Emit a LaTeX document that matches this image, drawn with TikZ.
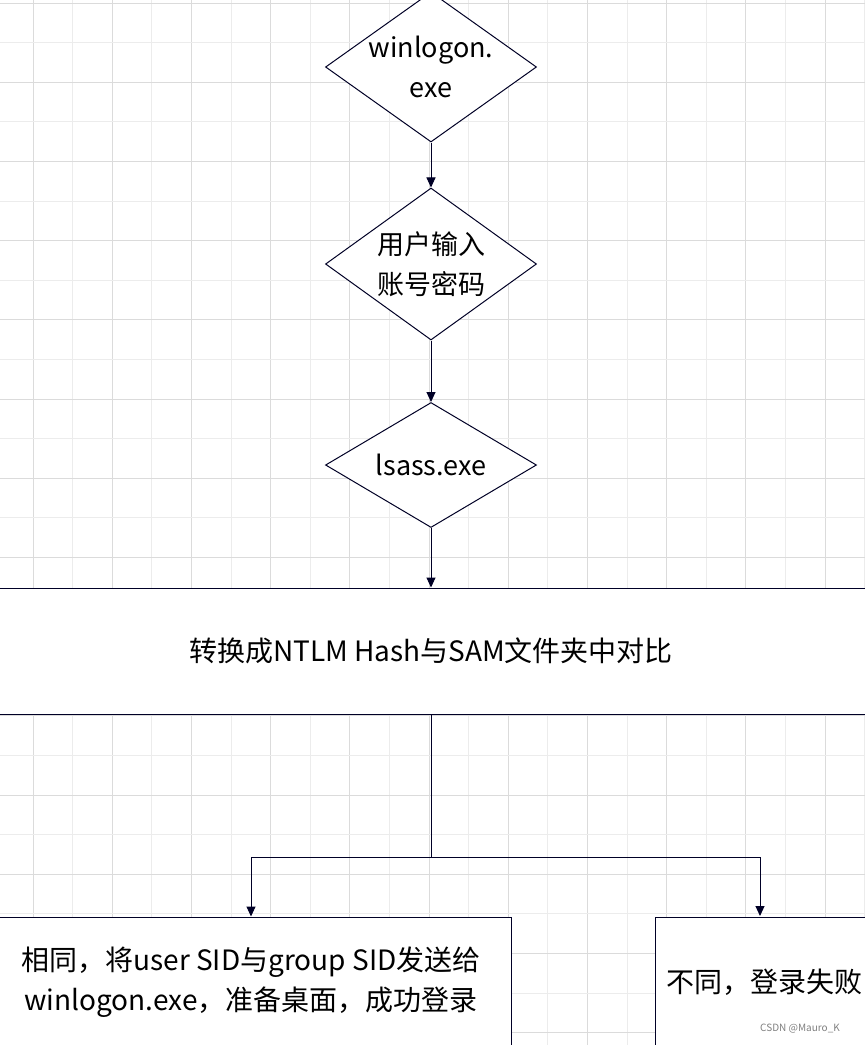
\documentclass[tikz,border=0pt]{standalone}
\usepackage{fontspec}
\setmainfont{Noto Sans CJK SC}
\usetikzlibrary{shapes.geometric,arrows.meta}
\begin{document}
\begin{tikzpicture}[x=1pt,y=-1pt,
  ln/.style={draw=black!85!blue,line width=1pt},
  dia/.style={ln,diamond,fill=white,minimum width=211pt,minimum height=150pt,inner sep=0pt},
  dt/.style={align=center,font=\fontsize{27}{40}\selectfont,inner sep=0pt},
  box/.style={ln,rectangle,fill=white,inner sep=0pt,align=center,font=\fontsize{28}{40}\selectfont},
  arr/.style={ln,-{Triangle[length=10pt,width=9pt]}}]
\useasboundingbox (0,0) rectangle (865,1045);
\fill[white] (0,0) rectangle (865,1045);
\foreach \i in {0,...,21}{
  \pgfmathsetmacro\xx{33+39.6*\i}
  \pgfmathtruncatemacro\m{mod(\i,2)}
  \ifnum\m=0 \draw[gray!28,line width=1pt] (\xx,0)--(\xx,1045); \else \draw[gray!15,line width=1pt] (\xx,0)--(\xx,1045);\fi
}
\foreach \i in {0,...,26}{
  \pgfmathsetmacro\yy{3+39.6*\i}
  \pgfmathtruncatemacro\m{mod(\i,2)}
  \ifnum\m=0 \draw[gray!28,line width=1pt] (0,\yy)--(865,\yy); \else \draw[gray!15,line width=1pt] (0,\yy)--(865,\yy);\fi
}
\node[dia] (w) at (431,67) {};
\node[dt] (wt) at (w) {winlogon.\\exe};
\node[dia,minimum height=152pt] (u) at (431,264) {};
\node[dt] (ut) at (u) {用户输入\\账号密码};
\node[dia,minimum height=125pt] (l) at (431,465) {};
\node[dt] (lt) at (l) {lsass.exe};
\node[box,minimum width=880pt,minimum height=126pt] (n) at (431,651) {转换成NTLM Hash与SAM文件夹中对比};
\node[box,minimum width=520pt,minimum height=130pt] (s) at (251,982) {相同，将user SID与group SID发送给\\winlogon.exe，准备桌面，成功登录};
\node[box,minimum width=230pt,minimum height=130pt,anchor=west] (f) at (655,982) {\hspace{8pt}不同，登录失败\hspace{20pt}};
\coordinate (fa) at (760,916);
\draw[arr] (w) -- (u);
\draw[arr] (u) -- (l);
\draw[arr] (l) -- (n);
\draw[ln] (n.south -| 431,0) -- (431,857) coordinate (j);
\draw[arr] (j) -| (s.north);
\draw[arr] (j) -| (fa);
\node[font=\fontsize{10}{12}\selectfont,text=gray] (c) at (800,1029) {CSDN @Mauro\_K};
\end{tikzpicture}
\end{document}
